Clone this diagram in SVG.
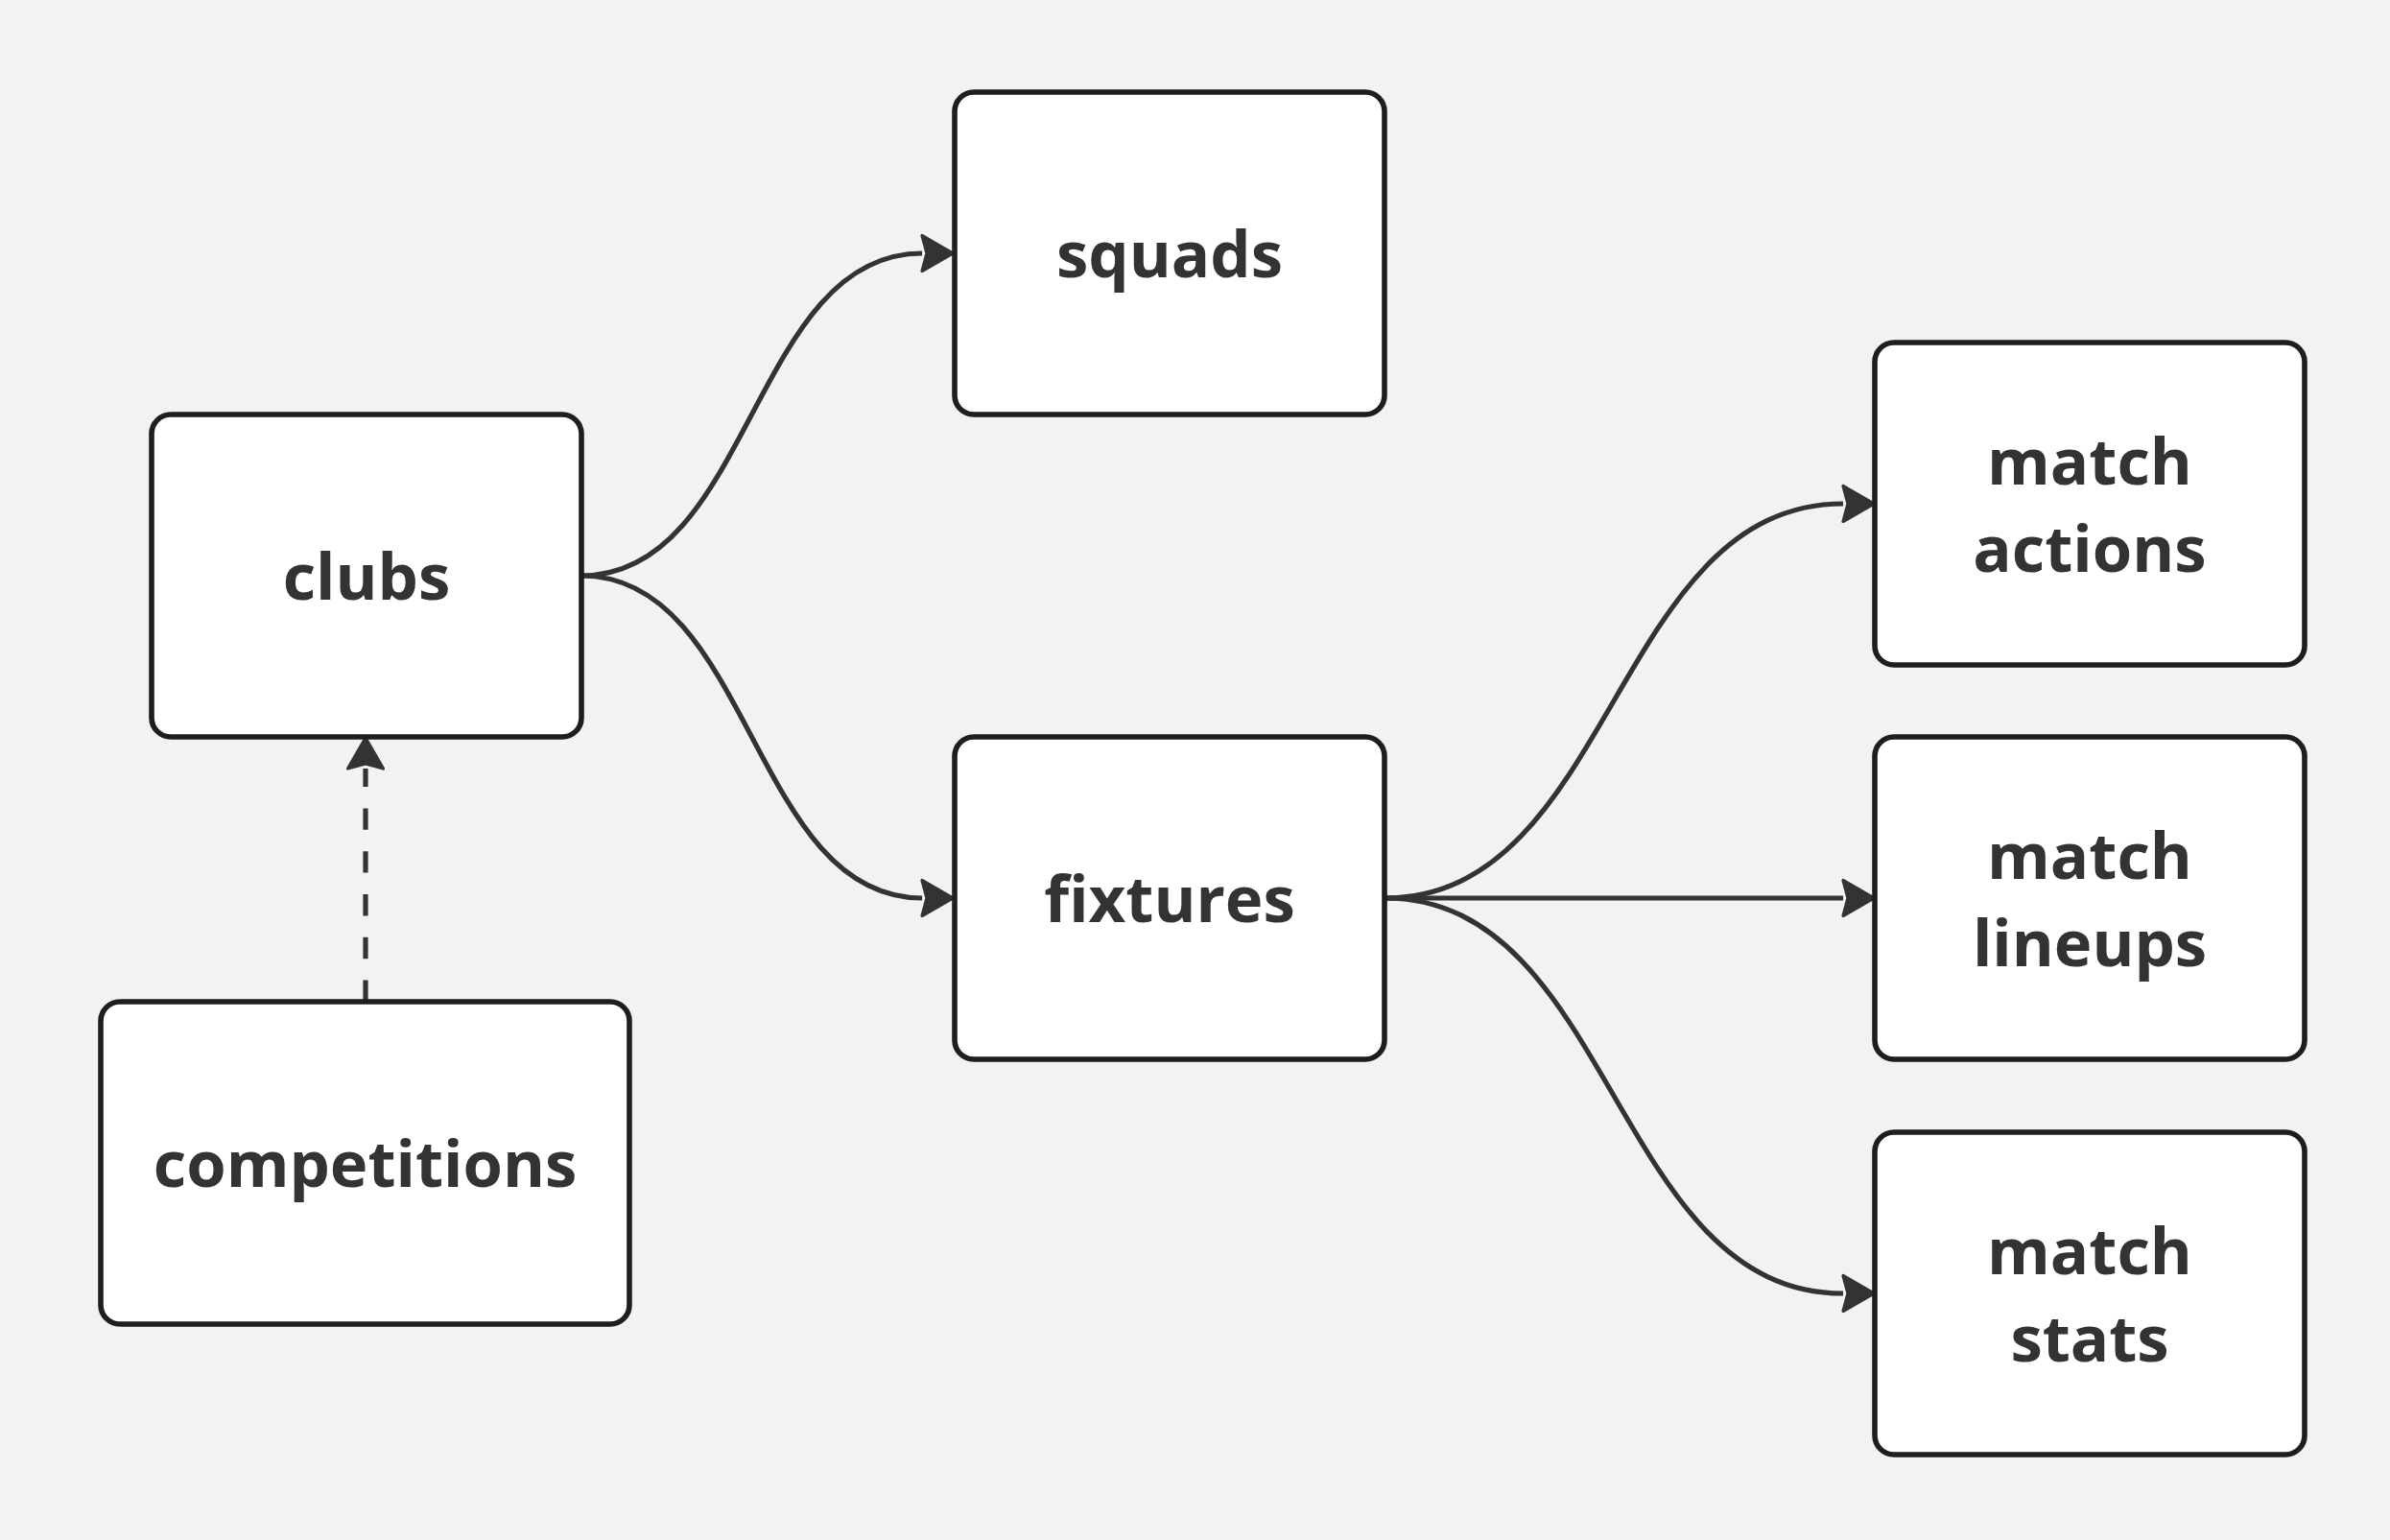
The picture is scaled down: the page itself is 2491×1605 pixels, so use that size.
<svg xmlns="http://www.w3.org/2000/svg" width="2491" height="1605" viewBox="0 0 2491 1605">
<style>
.box{fill:#ffffff;stroke:#1e1e1e;stroke-width:5.6}
.lbl{font-family:"Open Sans","Noto Sans","DejaVu Sans",sans-serif;font-weight:700;font-size:67px;fill:#333333;text-anchor:middle}
.edge{fill:none;stroke:#333333;stroke-width:5.2}
.dash{stroke-dasharray:22.4 22.4}
</style>
<defs>
<marker id="arr" markerUnits="userSpaceOnUse" viewBox="-8 -25 50 50" refX="0" refY="0" markerWidth="50" markerHeight="50" orient="auto">
<path d="M32,0 L0,-18.5 L5,0 L0,18.5 Z" fill="#333333" stroke="#333333" stroke-width="3.2" stroke-linejoin="round"/>
</marker>
</defs>
<rect x="0" y="0" width="2491" height="1605" fill="#f2f2f2"/>
<g id="connectors">
<path class="edge" d="M606,600 C783.5,600 783.5,264 961,264" marker-end="url(#arr)"/>
<path class="edge" d="M606,600 C783.5,600 783.5,936 961,936" marker-end="url(#arr)"/>
<path class="edge dash" d="M381,1044 L381,801" marker-end="url(#arr)"/>
<path class="edge" d="M1443,936 C1682,936 1682,525 1921,525" marker-end="url(#arr)"/>
<path class="edge" d="M1443,936 L1921,936" marker-end="url(#arr)"/>
<path class="edge" d="M1443,936 C1682,936 1682,1348 1921,1348" marker-end="url(#arr)"/>
</g>
<g id="clubs">
<rect class="box" x="158" y="432" width="448" height="336" rx="20"/>
<text class="lbl" x="382" y="625">clubs</text>
</g>
<g id="squads">
<rect class="box" x="995" y="96" width="448" height="336" rx="20"/>
<text class="lbl" x="1219" y="289">squads</text>
</g>
<g id="fixtures">
<rect class="box" x="995" y="768" width="448" height="336" rx="20"/>
<text class="lbl" x="1219" y="961">fixtures</text>
</g>
<g id="competitions">
<rect class="box" x="105" y="1044" width="551" height="336" rx="20"/>
<text class="lbl" x="380.5" y="1237">competitions</text>
</g>
<g id="match_actions">
<rect class="box" x="1954" y="357" width="448" height="336" rx="20"/>
<text class="lbl" x="2178" y="505">match</text>
<text class="lbl" x="2178" y="596">actions</text>
</g>
<g id="match_lineups">
<rect class="box" x="1954" y="768" width="448" height="336" rx="20"/>
<text class="lbl" x="2178" y="916">match</text>
<text class="lbl" x="2178" y="1007">lineups</text>
</g>
<g id="match_stats">
<rect class="box" x="1954" y="1180" width="448" height="336" rx="20"/>
<text class="lbl" x="2178" y="1328">match</text>
<text class="lbl" x="2178" y="1419">stats</text>
</g>
</svg>
